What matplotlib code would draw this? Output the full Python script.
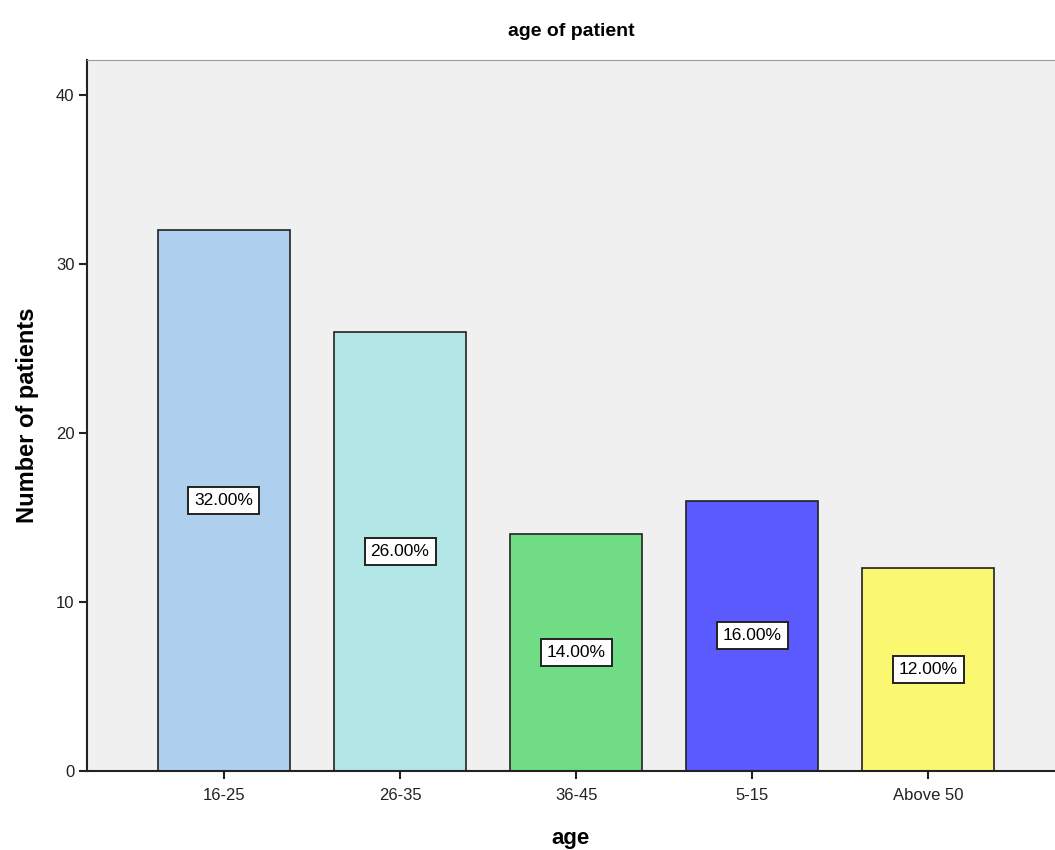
import matplotlib
matplotlib.use('Agg')
import matplotlib.pyplot as plt

plt.rcParams['font.family'] = ['Liberation Sans', 'DejaVu Sans']

categories = ['16-25', '26-35', '36-45', '5-15', 'Above 50']
counts = [32, 26, 14, 16, 12]
percents = ['32.00%', '26.00%', '14.00%', '16.00%', '12.00%']
colors = ['#aecfee', '#b3e6e6', '#70dc86', '#5a5aff', '#faf870']


def main():
	fig = plt.figure(figsize=(10.55, 8.5), dpi=100)
	ax = fig.add_axes([87 / 1055, 1 - 771 / 850, 968 / 1055, 711 / 850])
	ax.set_facecolor('#f0f0f0')

	x = list(range(len(categories)))
	ax.bar(x, counts, width=0.75, color=colors, edgecolor='#222222', linewidth=1.2, zorder=2)

	# percentage boxes sit halfway up each bar
	for xi, c, p in zip(x, counts, percents):
		ax.text(xi, c / 2, p, ha='center', va='center', fontsize=12.5, zorder=3,
			bbox=dict(boxstyle='square,pad=0.35', facecolor='white', edgecolor='#222222', linewidth=1.4))

	ax.set_xlim(-0.778, 4.72)
	ax.set_ylim(0, 42.07)
	ax.set_xticks(x)
	ax.set_xticklabels(categories, fontsize=12)
	ax.set_yticks([0, 10, 20, 30, 40])
	ax.tick_params(axis='both', direction='out', length=6, width=1.5, colors='#222222', labelsize=12, pad=3)
	ax.tick_params(axis='x', pad=6)

	for s in ['left', 'bottom']:
		ax.spines[s].set_color('#222222')
		ax.spines[s].set_linewidth(1.5)
	ax.spines['top'].set_color('#999999')
	ax.spines['right'].set_visible(False)

	ax.set_title('age of patient', fontsize=14, fontweight='bold', pad=17)
	ax.set_ylabel('Number of patients', fontsize=17, fontweight='bold', labelpad=12)
	ax.set_xlabel('age', fontsize=16, fontweight='bold', labelpad=18)

	fig.savefig('out.png', dpi=100)


if __name__ == "__main__":
	main()
